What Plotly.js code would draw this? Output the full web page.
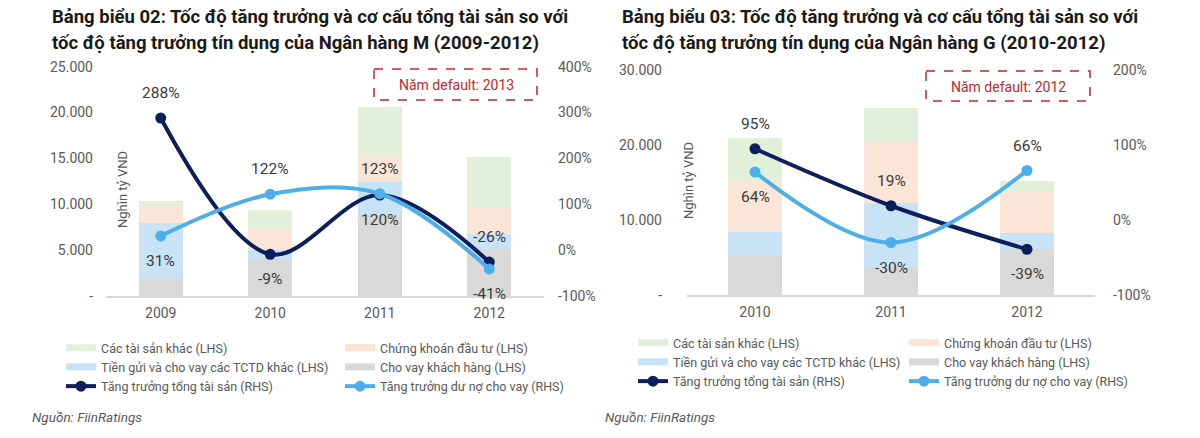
<!DOCTYPE html>
<html>
<head>
<meta charset="utf-8">
<script src="https://cdn.plot.ly/plotly-3.0.1.min.js"></script>
<style>
html,body{margin:0;padding:0;background:#fff;}
#chart{width:1200px;height:438px;}
</style>
</head>
<body>
<div id="chart"></div>
<script>
// ---------- Data: Ngân hàng M (2009-2012) ----------
var mYears = ['2009', '2010', '2011', '2012'];
var mChoVay = [1800, 4000, 8870, 5160];          // Cho vay khách hàng (LHS)
var mTienGui = [6200, 1000, 3600, 1560];         // Tiền gửi và cho vay các TCTD khác (LHS)
var mChungKhoan = [1850, 2340, 2800, 2900];      // Chứng khoán đầu tư (LHS)
var mTaiSanKhac = [500, 2035, 5300, 5530];       // Các tài sản khác (LHS)
var mTangTruongTS = [288, -9, 120, -26];         // Tăng trưởng tổng tài sản (RHS), %
var mTangTruongDuNo = [31, 122, 123, -41];       // Tăng trưởng dư nợ cho vay (RHS), %

// ---------- Data: Ngân hàng G (2010-2012) ----------
var gYears = ['2010', '2011', '2012'];
var gChoVay = [5240, 3730, 6090];
var gTienGui = [3120, 8540, 2180];
var gChungKhoan = [6840, 8090, 5510];
var gTaiSanKhac = [5780, 4580, 1420];
var gTangTruongTS = [95, 19, -39];
var gTangTruongDuNo = [64, -30, 66];

// ---------- Tick labels ----------
var mLeftTicks = [0, 5000, 10000, 15000, 20000, 25000];
var mLeftTickText = ['-', '5.000', '10.000', '15.000', '20.000', '25.000'];
var mRightTicks = [-100, 0, 100, 200, 300, 400];
var gLeftTicks = [0, 10000, 20000, 30000];
var gLeftTickText = ['-', '10.000', '20.000', '30.000'];
var gRightTicks = [-100, 0, 100, 200];

// ---------- Names ----------
var nTaiSanKhac = 'Các tài sản khác (LHS)';
var nChungKhoan = 'Chứng khoán đầu tư (LHS)';
var nTienGui = 'Tiền gửi và cho vay các TCTD khác (LHS)';
var nChoVay = 'Cho vay khách hàng (LHS)';
var nTS = 'Tăng trưởng tổng tài sản (RHS)';
var nDuNo = 'Tăng trưởng dư nợ cho vay (RHS)';

// label placement (style, not data): +1 above the point, -1 below
var mTSPos = [1, -1, -1, 1];
var mDuNoPos = [-1, 1, 1, -1];
var gTSPos = [1, 1, -1];
var gDuNoPos = [-1, -1, 1];

var C = {
  green: '#E2F0D9', orange: '#FBE5D6', blue: '#C7E3F5', grey: '#D9D9D9',
  navy: '#0C1F5B', light: '#4DAEEA', text: '#595959', red: '#C0282D'
};
var FONT = 'Roboto, "Noto Sans", sans-serif';

function pct(arr) { return arr.map(function (v) { return v + '%'; }); }

function bar(x, y, name, color, xa, ya) {
  return {type: 'bar', x: x, y: y, name: name, marker: {color: color, line: {width: 0}},
    xaxis: xa, yaxis: ya, showlegend: false, hoverinfo: 'skip'};
}
// legend-only entry (no marks): draws the wide flat swatch used by the reference legend
function swatch(name, color, xa, ya, leg, rank) {
  return {type: 'scatter', mode: 'lines', x: [null], y: [null], name: name,
    line: {color: color, width: 7}, xaxis: xa, yaxis: ya, legend: leg, legendrank: rank,
    hoverinfo: 'skip'};
}
function line(x, y, name, color, xa, ya, leg, rank) {
  return {type: 'scatter', mode: 'lines+markers', x: x, y: y, name: name,
    line: {color: color, width: 4, shape: 'spline', smoothing: 1},
    marker: {color: color, size: 11},
    xaxis: xa, yaxis: ya, legend: leg, legendrank: rank, hoverinfo: 'skip'};
}

var data = [
  bar(mYears, mChoVay, nChoVay, C.grey, 'x', 'y'),
  bar(mYears, mTienGui, nTienGui, C.blue, 'x', 'y'),
  bar(mYears, mChungKhoan, nChungKhoan, C.orange, 'x', 'y'),
  bar(mYears, mTaiSanKhac, nTaiSanKhac, C.green, 'x', 'y'),
  line(mYears, mTangTruongTS, nTS, C.navy, 'x', 'y2', 'legend', 5),
  line(mYears, mTangTruongDuNo, nDuNo, C.light, 'x', 'y2', 'legend2', 6),
  swatch(nTaiSanKhac, C.green, 'x', 'y', 'legend', 1),
  swatch(nChungKhoan, C.orange, 'x', 'y', 'legend2', 2),
  swatch(nTienGui, C.blue, 'x', 'y', 'legend', 3),
  swatch(nChoVay, C.grey, 'x', 'y', 'legend2', 4),

  bar(gYears, gChoVay, nChoVay, C.grey, 'x2', 'y3'),
  bar(gYears, gTienGui, nTienGui, C.blue, 'x2', 'y3'),
  bar(gYears, gChungKhoan, nChungKhoan, C.orange, 'x2', 'y3'),
  bar(gYears, gTaiSanKhac, nTaiSanKhac, C.green, 'x2', 'y3'),
  line(gYears, gTangTruongTS, nTS, C.navy, 'x2', 'y4', 'legend3', 5),
  line(gYears, gTangTruongDuNo, nDuNo, C.light, 'x2', 'y4', 'legend4', 6),
  swatch(nTaiSanKhac, C.green, 'x2', 'y3', 'legend3', 1),
  swatch(nChungKhoan, C.orange, 'x2', 'y3', 'legend4', 2),
  swatch(nTienGui, C.blue, 'x2', 'y3', 'legend3', 3),
  swatch(nChoVay, C.grey, 'x2', 'y3', 'legend4', 4)
];

var W = 1200, H = 438;
function px(v) { return v / W; }
function py(v) { return (H - v) / H; }

var annotations = [];
// data labels, positioned through the category axis (index) and the value axis
function lbl(xs, ys, pos, xref, yref) {
  for (var i = 0; i < xs.length; i++) {
    annotations.push({x: i, y: ys[i], xref: xref, yref: yref, text: ys[i] + '%',
      showarrow: false, yshift: 25 * pos[i], font: {family: FONT, size: 15.5, color: '#3a3a3a'}});
  }
}
lbl(mYears, mTangTruongTS, mTSPos, 'x', 'y2');
lbl(mYears, mTangTruongDuNo, mDuNoPos, 'x', 'y2');
lbl(gYears, gTangTruongTS, gTSPos, 'x2', 'y4');
lbl(gYears, gTangTruongDuNo, gDuNoPos, 'x2', 'y4');

function txt(x, y, t, opts) {
  var a = {x: px(x), y: py(y), xref: 'paper', yref: 'paper', text: t, showarrow: false,
    xanchor: 'left', yanchor: 'middle', font: {family: FONT, size: 13, color: C.text}};
  for (var k in opts) a[k] = opts[k];
  annotations.push(a);
}
var titleFont = {family: FONT, size: 18.5, color: '#1a1a1a'};
txt(50, 17, '<b>Bảng biểu 02: Tốc độ tăng trưởng và cơ cấu tổng tài sản so với</b>', {font: titleFont});
txt(50, 43, '<b>tốc độ tăng trưởng tín dụng của Ngân hàng M (2009-2012)</b>', {font: titleFont});
txt(620, 17, '<b>Bảng biểu 03: Tốc độ tăng trưởng và cơ cấu tổng tài sản so với</b>', {font: titleFont});
txt(620, 43, '<b>tốc độ tăng trưởng tín dụng của Ngân hàng G (2010-2012)</b>', {font: titleFont});

txt(122, 190, 'Nghìn tỷ VND', {textangle: -90, xanchor: 'center', font: {family: FONT, size: 13, color: C.text}});
txt(689, 181, 'Nghìn tỷ VND', {textangle: -90, xanchor: 'center', font: {family: FONT, size: 13, color: C.text}});

txt(456, 85, 'Năm default: 2013', {xanchor: 'center', font: {family: FONT, size: 14, color: C.red}});
txt(1008, 87, 'Năm default: 2012', {xanchor: 'center', font: {family: FONT, size: 14, color: C.red}});

txt(30, 417, '<i>Nguồn: FiinRatings</i>', {font: {family: FONT, size: 13.5, color: '#595959'}});
txt(603, 417, '<i>Nguồn: FiinRatings</i>', {font: {family: FONT, size: 13.5, color: '#595959'}});

var shapes = [
  {type: 'rect', xref: 'paper', yref: 'paper', x0: px(374), x1: px(537), y0: py(69), y1: py(100),
    line: {color: C.red, width: 1.5, dash: 'dash'}},
  {type: 'rect', xref: 'paper', yref: 'paper', x0: px(926), x1: px(1090), y0: py(71), y1: py(101),
    line: {color: C.red, width: 1.5, dash: 'dash'}}
];

var tickFont = {family: FONT, size: 14, color: C.text};
var legFont = {family: FONT, size: 12.5, color: C.text};
function leg(x, y) {
  return {x: px(x), y: py(y), xanchor: 'left', yanchor: 'top', orientation: 'v',
    font: legFont, bgcolor: 'rgba(0,0,0,0)', tracegroupgap: 0, traceorder: 'normal'};
}

var layout = {
  width: W, height: H,
  margin: {l: 0, r: 0, t: 0, b: 0},
  paper_bgcolor: '#fff', plot_bgcolor: 'rgba(0,0,0,0)',
  barmode: 'stack', bargap: 0.6,
  showlegend: true,
  font: {family: FONT, color: C.text},
  xaxis: {domain: [px(106), px(544)], anchor: 'y', type: 'category', range: [-0.5, 3.5],
    showline: true, linecolor: '#D9D9D9', linewidth: 1.5, ticks: '', showgrid: false,
    zeroline: false, tickfont: tickFont, ticklabelstandoff: 4},
  yaxis: {domain: [py(296), py(66.7)], anchor: 'x', range: [0, 25000], tickvals: mLeftTicks,
    ticktext: mLeftTickText, showgrid: false, zeroline: false, showline: false, ticks: '',
    tickfont: tickFont, ticklabelstandoff: 12},
  yaxis2: {overlaying: 'y', side: 'right', anchor: 'x', range: [-100, 400], tickvals: mRightTicks,
    ticktext: pct(mRightTicks), showgrid: false, zeroline: false, showline: false, ticks: '',
    tickfont: tickFont, ticklabelstandoff: 13},
  xaxis2: {domain: [px(687), px(1095)], anchor: 'y3', type: 'category', range: [-0.5, 2.5],
    showline: true, linecolor: '#D9D9D9', linewidth: 1.5, ticks: '', showgrid: false,
    zeroline: false, tickfont: tickFont, ticklabelstandoff: 4},
  yaxis3: {domain: [py(295), py(70)], anchor: 'x2', range: [0, 30000], tickvals: gLeftTicks,
    ticktext: gLeftTickText, showgrid: false, zeroline: false, showline: false, ticks: '',
    tickfont: tickFont, ticklabelstandoff: 24},
  yaxis4: {overlaying: 'y3', side: 'right', anchor: 'x2', range: [-100, 200], tickvals: gRightTicks,
    ticktext: pct(gRightTicks), showgrid: false, zeroline: false, showline: false, ticks: '',
    tickfont: tickFont, ticklabelstandoff: 17},
  legend: leg(61, 333),
  legend2: leg(340, 333),
  legend3: leg(633, 328),
  legend4: leg(904, 328),
  annotations: annotations,
  shapes: shapes
};

Plotly.newPlot('chart', data, layout, {displayModeBar: false, staticPlot: true});
</script>
</body>
</html>
